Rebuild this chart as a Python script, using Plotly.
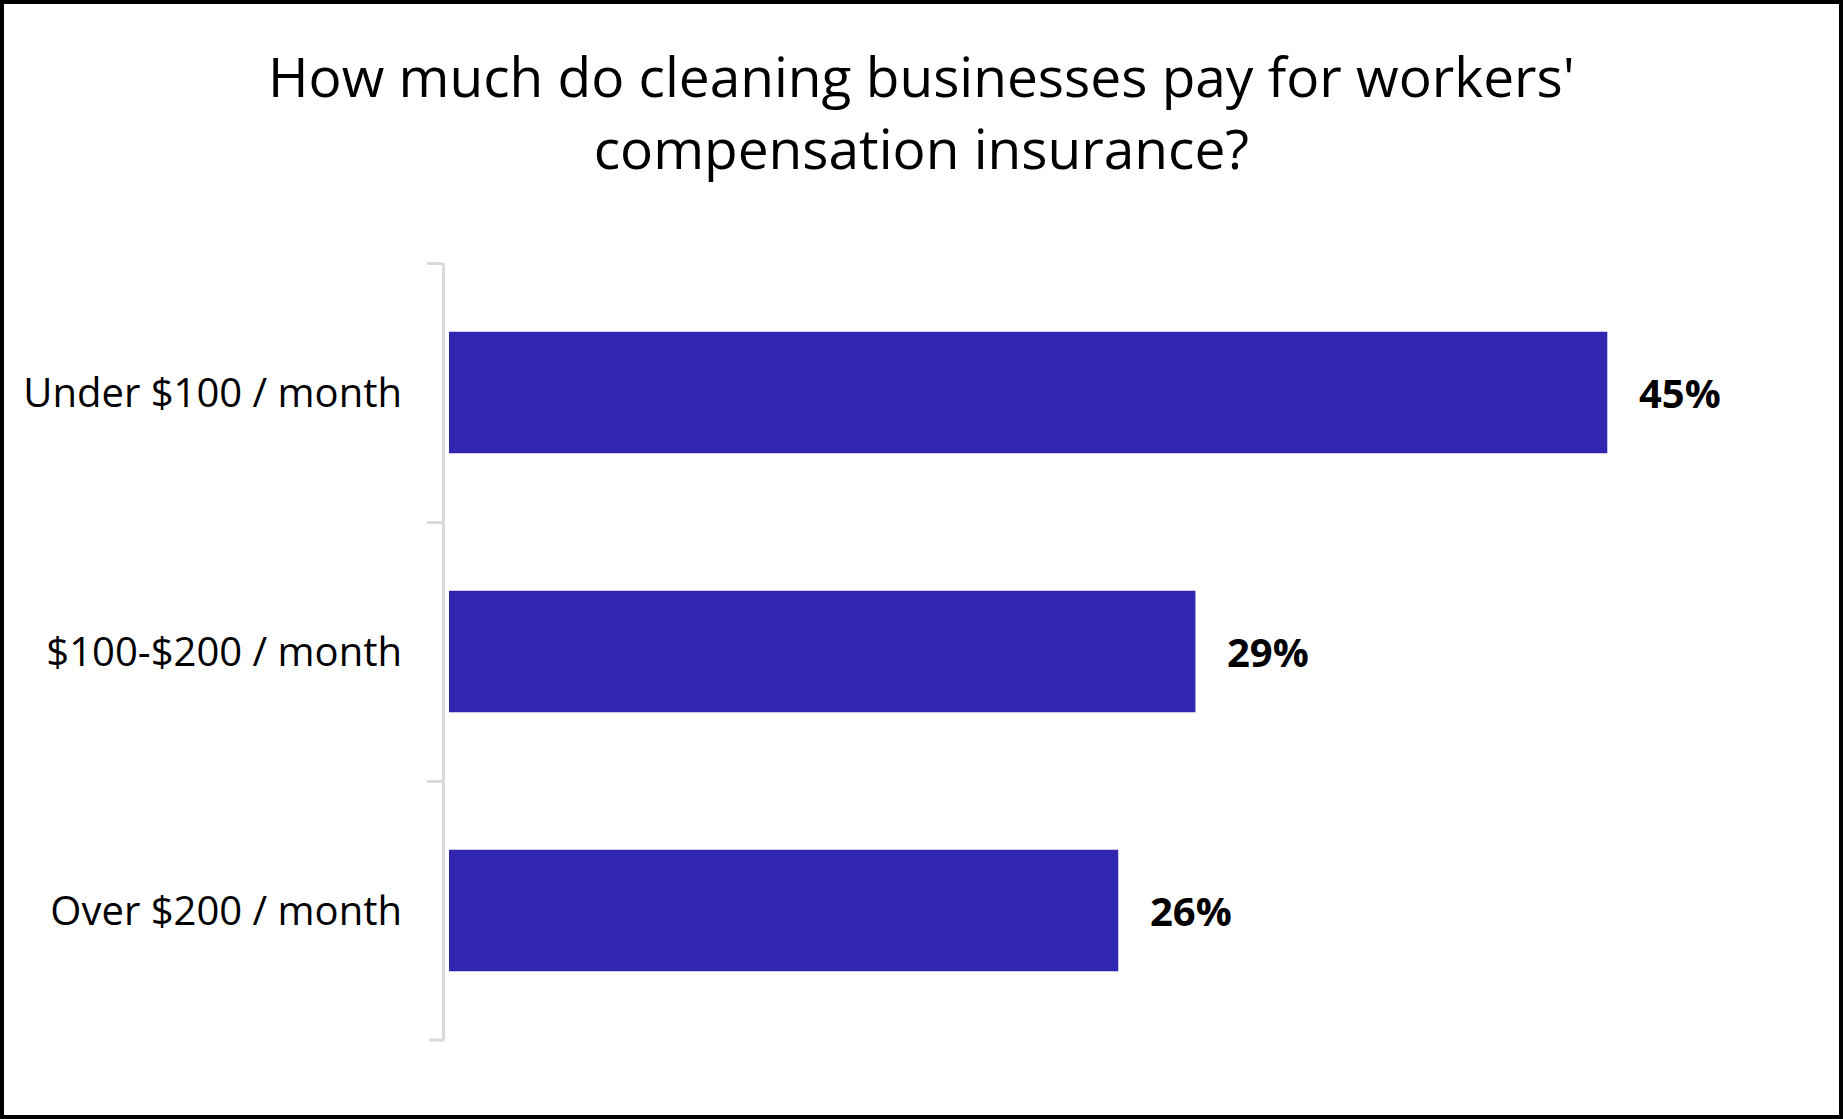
import plotly.graph_objects as go

# survey answers, top to bottom
categories = ["Under $100 / month", "$100-$200 / month", "Over $200 / month"]
shares = [45, 29, 26]
share_labels = ["45%", "29%", "26%"]

W, H = 1843, 1119
ml, mr, mt, mb = 445, 107, 263, 79
bar_color = "#3126B0"
axis_gray = "#D9D9D9"

fig = go.Figure(go.Bar(
    x=shares,
    y=categories,
    orientation="h",
    marker=dict(color=bar_color, line=dict(width=0)),
    width=0.47,
    hoverinfo="skip",
))

# value labels to the right of each bar
for c, v, t in zip(categories, shares, share_labels):
    fig.add_annotation(
        x=v, y=c, text="<b>" + t + "</b>",
        xanchor="left", yanchor="middle", xshift=30, showarrow=False,
        font=dict(family="Open Sans", size=40, color="black"),
    )

pw = W - ml - mr
ph = H - mt - mb

# title as an annotation so the two lines anchor properly
fig.add_annotation(
    text="How much do cleaning businesses pay for workers'<br>compensation insurance?",
    xref="paper", yref="paper",
    x=(W / 2 - ml) / pw, y=1 + (mt - 36) / ph,
    xanchor="center", yanchor="top", showarrow=False,
    font=dict(family="Open Sans", size=55, color="black"),
)

# last boundary tick at the bottom of the category axis
fig.add_shape(
    type="line", xref="paper", yref="paper",
    x0=-16 / pw, x1=-1 / pw, y0=0, y1=0,
    line=dict(color=axis_gray, width=3),
)

# black frame around the whole picture
fig.add_shape(
    type="rect", xref="paper", yref="paper",
    x0=-(ml - 2) / pw, x1=1 + (mr - 2) / pw,
    y0=-(mb - 2) / ph, y1=1 + (mt - 2) / ph,
    line=dict(color="black", width=4), fillcolor="rgba(0,0,0,0)",
)

fig.update_layout(
    width=W, height=H,
    margin=dict(l=ml, r=mr, t=mt, b=mb),
    paper_bgcolor="white", plot_bgcolor="white",
    showlegend=False,
    xaxis=dict(
        range=[-0.155, 50], visible=False, fixedrange=True,
    ),
    yaxis=dict(
        categoryorder="array", categoryarray=categories, autorange="reversed",
        showline=True, linecolor=axis_gray, linewidth=3,
        ticks="outside", tickson="boundaries", ticklen=15, tickwidth=3, tickcolor=axis_gray,
        ticklabelstandoff=32,
        tickfont=dict(family="Open Sans", size=40, color="black"),
        showgrid=False, zeroline=False, fixedrange=True,
    ),
)

fig.write_html("out.html", config={"displayModeBar": False},
               post_script="document.body.style.margin='0';")
